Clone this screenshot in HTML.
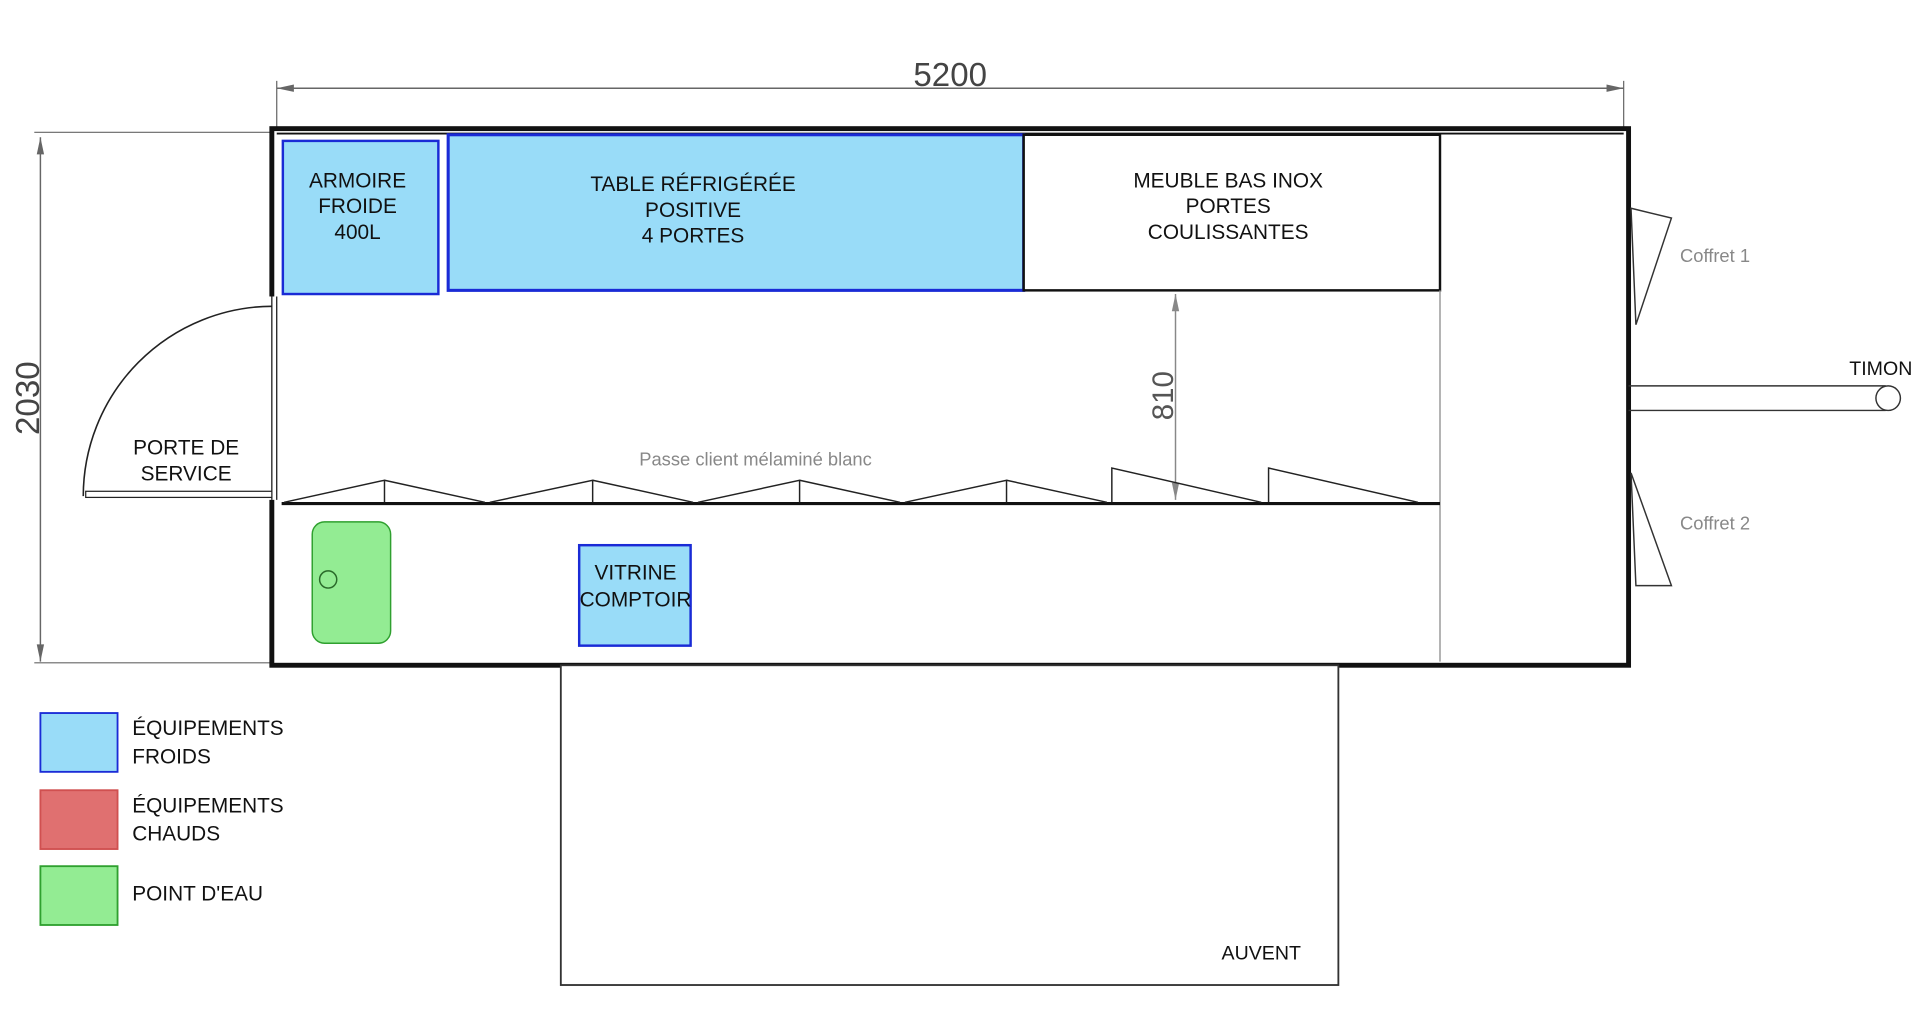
<!DOCTYPE html>
<html><head><meta charset="utf-8"><style>
html,body{margin:0;padding:0;background:#fff}
svg{display:block}
text{font-family:"Liberation Sans",sans-serif}
</style></head><body>
<svg width="1920" height="1023" viewBox="0 0 1568 835" preserveAspectRatio="none" xmlns="http://www.w3.org/2000/svg">
<!-- top dimension -->
<line x1="226" y1="72" x2="1326" y2="72" stroke="#666" stroke-width="1.2"/>
<line x1="226" y1="66" x2="226" y2="105" stroke="#666"/>
<line x1="1326" y1="66" x2="1326" y2="105" stroke="#666"/>
<polygon points="226,72 240,69 240,75" fill="#666"/>
<polygon points="1326,72 1312,69 1312,75" fill="#666"/>
<text x="776" y="70" font-size="27" text-anchor="middle" fill="#444">5200</text>
<!-- left dimension -->
<line x1="33" y1="112" x2="33" y2="540" stroke="#666" stroke-width="1.2"/>
<line x1="28" y1="108" x2="222" y2="108" stroke="#666"/>
<line x1="28" y1="541" x2="222" y2="541" stroke="#666"/>
<polygon points="33,112 30,126 36,126" fill="#666"/>
<polygon points="33,540 30,526 36,526" fill="#666"/>
<text transform="translate(32,325) rotate(-90)" font-size="27" text-anchor="middle" fill="#444">2030</text>
<!-- trailer -->
<rect x="222" y="105" width="1108" height="438" fill="#fff" stroke="#111" stroke-width="4"/>
<line x1="226" y1="109" x2="1326" y2="109" stroke="#111" stroke-width="1.5"/>
<!-- door opening -->
<rect x="219" y="242" width="8" height="166" fill="#fff"/>
<line x1="222" y1="242" x2="222" y2="408" stroke="#111" stroke-width="1"/>
<line x1="226" y1="242" x2="226" y2="408" stroke="#111" stroke-width="1"/>
<path d="M222,250 A155,155 0 0 0 68,405" fill="none" stroke="#222" stroke-width="1.3"/>
<rect x="70" y="401" width="152" height="5" fill="#fff" stroke="#222" stroke-width="1"/>
<text x="152" y="371" font-size="17" text-anchor="middle" fill="#111">PORTE DE</text>
<text x="152" y="392" font-size="17" text-anchor="middle" fill="#111">SERVICE</text>
<!-- furniture -->
<rect x="231" y="115" width="127" height="125" fill="#99dcf8" stroke="#1a2bd6" stroke-width="2"/>
<text x="292" y="153" font-size="17" text-anchor="middle" fill="#111">ARMOIRE</text>
<text x="292" y="174" font-size="17" text-anchor="middle" fill="#111">FROIDE</text>
<text x="292" y="195" font-size="17" text-anchor="middle" fill="#111">400L</text>
<rect x="366" y="110" width="470" height="127" fill="#99dcf8" stroke="#1a2bd6" stroke-width="2.5"/>
<text x="566" y="156" font-size="17" text-anchor="middle" fill="#111">TABLE RÉFRIGÉRÉE</text>
<text x="566" y="177" font-size="17" text-anchor="middle" fill="#111">POSITIVE</text>
<text x="566" y="198" font-size="17" text-anchor="middle" fill="#111">4 PORTES</text>
<rect x="836" y="110" width="340" height="127" fill="#fff" stroke="#111" stroke-width="2"/>
<text x="1003" y="153" font-size="17" text-anchor="middle" fill="#111">MEUBLE BAS INOX</text>
<text x="1003" y="174" font-size="17" text-anchor="middle" fill="#111">PORTES</text>
<text x="1003" y="195" font-size="17" text-anchor="middle" fill="#111">COULISSANTES</text>
<line x1="1176" y1="237" x2="1176" y2="540" stroke="#999" stroke-width="1.2"/>
<!-- 810 dim -->
<line x1="960" y1="240" x2="960" y2="408" stroke="#888" stroke-width="1.2"/>
<polygon points="960,240 957,254 963,254" fill="#888"/>
<polygon points="960,408 957,394 963,394" fill="#888"/>
<text transform="translate(958,323) rotate(-90)" font-size="24" text-anchor="middle" fill="#555">810</text>
<!-- counter -->
<text x="617" y="380" font-size="15" text-anchor="middle" fill="#888">Passe client mélaminé blanc</text>
<line x1="230" y1="411" x2="1176" y2="411" stroke="#111" stroke-width="2.5"/>
<g fill="none" stroke="#222" stroke-width="1.2">
<path d="M232,410 L314,392 L314,410 M314,392 L396,410"/>
<path d="M400,410 L484,392 L484,410 M484,392 L566,410"/>
<path d="M570,410 L653,392 L653,410 M653,392 L735,410"/>
<path d="M739,410 L822,392 L822,410 M822,392 L904,410"/>
<path d="M908,410 L908,382 L1030,410"/>
<path d="M1036,410 L1036,382 L1158,410"/>
</g>
<!-- sink -->
<rect x="255" y="426" width="64" height="99" rx="10" fill="#93ec93" stroke="#2fa02f" stroke-width="1.2"/>
<circle cx="268" cy="473" r="7" fill="none" stroke="#2a6a2a" stroke-width="1.2"/>
<!-- vitrine -->
<rect x="473" y="445" width="91" height="82" fill="#99dcf8" stroke="#1a2bd6" stroke-width="2"/>
<text x="519" y="473" font-size="17" text-anchor="middle" fill="#111">VITRINE</text>
<text x="519" y="495" font-size="17" text-anchor="middle" fill="#111">COMPTOIR</text>
<!-- coffrets -->
<path d="M1332,170 L1365,178 L1336,265 Z" fill="#fff" stroke="#333" stroke-width="1.2"/>
<text x="1372" y="214" font-size="15" fill="#888">Coffret 1</text>
<path d="M1332,386 L1365,478 L1336,478 Z" fill="#fff" stroke="#333" stroke-width="1.2"/>
<text x="1372" y="432" font-size="15" fill="#888">Coffret 2</text>
<!-- timon -->
<line x1="1330" y1="315" x2="1540" y2="315" stroke="#333" stroke-width="1.2"/>
<line x1="1330" y1="335" x2="1540" y2="335" stroke="#333" stroke-width="1.2"/>
<circle cx="1542" cy="325" r="10" fill="#fff" stroke="#333" stroke-width="1.2"/>
<text x="1536" y="306" font-size="16" text-anchor="middle" fill="#111">TIMON</text>
<!-- auvent -->
<rect x="458" y="543" width="635" height="261" fill="#fff" stroke="#333" stroke-width="1.5"/>
<text x="1030" y="783" font-size="16" text-anchor="middle" fill="#111">AUVENT</text>
<!-- legend -->
<rect x="33" y="582" width="63" height="48" fill="#99dcf8" stroke="#1a2bd6" stroke-width="1.5"/>
<text x="108" y="600" font-size="17" fill="#111">ÉQUIPEMENTS</text>
<text x="108" y="623" font-size="17" fill="#111">FROIDS</text>
<rect x="33" y="645" width="63" height="48" fill="#e07070" stroke="#d05050" stroke-width="1.5"/>
<text x="108" y="663" font-size="17" fill="#111">ÉQUIPEMENTS</text>
<text x="108" y="686" font-size="17" fill="#111">CHAUDS</text>
<rect x="33" y="707" width="63" height="48" fill="#93ec93" stroke="#2fa02f" stroke-width="1.5"/>
<text x="108" y="735" font-size="17" fill="#111">POINT D'EAU</text>
</svg>
</body></html>
